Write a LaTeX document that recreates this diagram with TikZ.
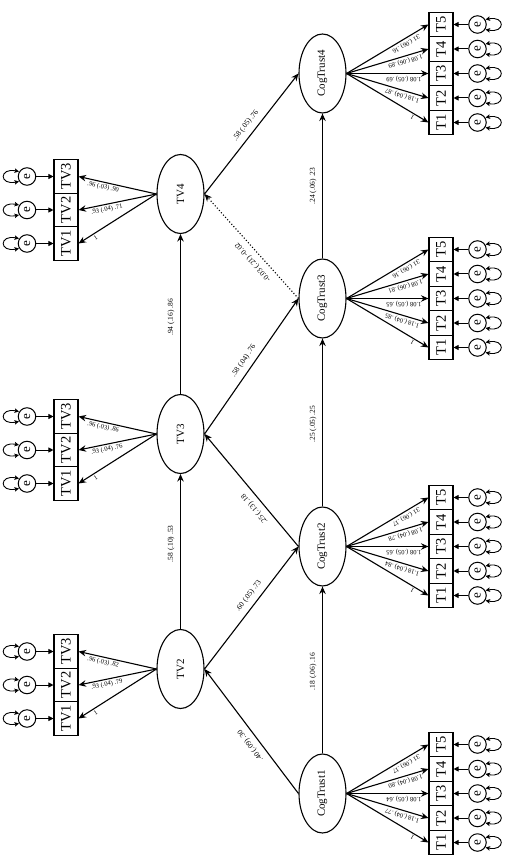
\documentclass[tikz,border=0pt]{standalone}
\usepackage{fontspec}
\setmainfont{Liberation Serif}
\usetikzlibrary{shapes.geometric,arrows.meta,calc}
\begin{document}
\begin{tikzpicture}[x=1pt,y=-1pt,
  lat/.style={ellipse, draw, line width=1.1pt, rotate=90, minimum width=79pt, minimum height=47pt, inner sep=0pt, font=\fontsize{11}{12}\selectfont},
  ind/.style={rectangle, draw, line width=1.1pt, rotate=90, minimum height=24pt, inner sep=0pt, font=\fontsize{14.5}{16}\selectfont},
  tvind/.style={ind, minimum width=33.5pt},
  tind/.style={ind, minimum width=24.5pt},
  err/.style={circle, draw, line width=1pt, rotate=90, minimum size=17.5pt, inner sep=0pt, font=\fontsize{13}{14}\selectfont},
  load/.style={line width=1.1pt, -{Stealth[length=7.5pt,width=6.5pt,inset=2.5pt]}},
  earrow/.style={line width=1pt, -{Stealth[length=5pt,width=5pt,inset=0pt]}},
  var/.style={line width=0.9pt, {Stealth[length=4.5pt,width=4.5pt,inset=1pt]}-{Stealth[length=4.5pt,width=4.5pt,inset=1pt]}},
  llbl/.style={font=\fontsize{6.5}{7}\selectfont, inner sep=0.5pt, sloped, allow upside down},
  slbl/.style={font=\fontsize{7.5}{8}\selectfont, inner sep=0.5pt, sloped, allow upside down, above=5pt}
]
\useasboundingbox (0,0) rectangle (506,858);

% ---------- TV latent factors with indicators ----------
\foreach \n/\y/\la/\lb in {2/669/{.96 (.03) .82}/{.93 (.04) .79},
                           3/434/{.96 (.03) .86}/{.93 (.04) .76},
                           4/194/{.96 (.03) .90}/{.93 (.04) .71}}{
  \node[lat] (TV\n) at (180.5,\y) {TV\n};
  \foreach \k/\d in {1/33.5, 2/0, 3/-33.5}{
    \pgfmathsetmacro{\yy}{\y+16+\d}
    \node[tvind] (TV\n-\k) at (66,\yy) {TV\k};
    \node[err] (eTV\n-\k) at (27,\yy) {e};
    \draw[earrow] (eTV\n-\k.south) -- (TV\n-\k.north);
    \draw[var] ([shift={(-8,-5)}]eTV\n-\k.center) .. controls +(-20,-4) and +(-20,4) .. ([shift={(-8,5)}]eTV\n-\k.center);
    \draw[load] (TV\n.north) -- (TV\n-\k.south);
  }
  \path (TV\n-3.south) -- (TV\n.north) node[llbl, pos=0.33, below=1.5pt] (lTV\n-3) {\la};
  \path (TV\n-2.south) -- (TV\n.north) node[llbl, pos=0.35, below=1.5pt] (lTV\n-2) {\lb};
  \path (TV\n-1.south) -- (TV\n.north) node[llbl, pos=0.19, below=1.5pt] (lTV\n-1) {1};
}

% ---------- CogTrust latent factors with indicators ----------
\foreach \n/\y/\la/\lb/\lc/\ld in {1/793.5/{.31 (.06) .17}/{1.08 (.04) .80}/{1.08 (.05) .64}/{1.18 (.04) .77},
                                   2/546.5/{.31 (.06) .17}/{1.08 (.04) .78}/{1.08 (.05) .65}/{1.18 (.04) .84},
                                   3/298.5/{.31 (.06) .16}/{1.08 (.06) .81}/{1.08 (.05) .65}/{1.18 (.04) .85},
                                   4/73.5/{.31 (.06) .16}/{1.08 (.06) .89}/{1.08 (.05) .69}/{1.18 (.04) .87}}{
  \node[lat] (C\n) at (322.5,\y) {CogTrust\n};
  \foreach \k in {1,...,5}{
    \pgfmathsetmacro{\yy}{\y+(3-\k)*24.5}
    \node[tind] (C\n-\k) at (441,\yy) {T\k};
    \node[err] (eC\n-\k) at (477.5,\yy) {e};
    \draw[earrow] (eC\n-\k.north) -- (C\n-\k.south);
    \draw[var] ([shift={(8,-5)}]eC\n-\k.center) .. controls +(20,-4) and +(20,4) .. ([shift={(8,5)}]eC\n-\k.center);
    \draw[load] (C\n.south) -- (C\n-\k.north);
  }
  \path (C\n-5.north) -- (C\n.south) node[llbl, pos=0.30, above=1.5pt] (lC\n-5) {\la};
  \path (C\n-4.north) -- (C\n.south) node[llbl, pos=0.30, above=1.5pt] (lC\n-4) {\lb};
  \path (C\n-3.north) -- (C\n.south) node[llbl, pos=0.30, above=1.5pt] (lC\n-3) {\lc};
  \path (C\n-2.north) -- (C\n.south) node[llbl, pos=0.30, above=1.5pt] (lC\n-2) {\ld};
  \path (C\n-1.north) -- (C\n.south) node[llbl, pos=0.17, above=1.5pt] (lC\n-1) {1};
}

% ---------- structural paths ----------
\draw[load] (TV2.east) -- node[slbl, pos=0.55] (p1) {.58 (.10) .53} (TV3.west);
\draw[load] (TV3.east) -- node[slbl, pos=0.48] (p2) {.94 (.16) .86} (TV4.west);
\draw[load] (C1.east) -- node[slbl, pos=0.49] (p3) {.18 (.06) .16} (C2.west);
\draw[load] (C2.east) -- node[slbl, pos=0.49] (p4) {.25 (.05) .25} (C3.west);
\draw[load] (C3.east) -- node[slbl, pos=0.50] (p5) {.24 (.06) .23} (C4.west);
\draw[load] (C1.north) -- node[slbl, pos=0.43] (p6) {.40 (.09) .30} (TV2.south);
\draw[load] (TV2.south) -- node[slbl, pos=0.55] (p7) {.60 (.05) .73} (C2.north);
\draw[load] (C2.north) -- node[slbl, pos=0.39] (p8) {.25 (.13) .18} (TV3.south);
\draw[load] (TV3.south) -- node[slbl, pos=0.50] (p9) {.58 (.04) .76} (C3.north);
\draw[load, dotted] (C3.north) -- node[slbl, pos=0.41] (p10) {-0.03 (.21) -0.02} (TV4.south);
\draw[load] (TV4.south) -- node[slbl, pos=0.52] (p11) {.58 (.05) .76} (C4.north);
\end{tikzpicture}
\end{document}
